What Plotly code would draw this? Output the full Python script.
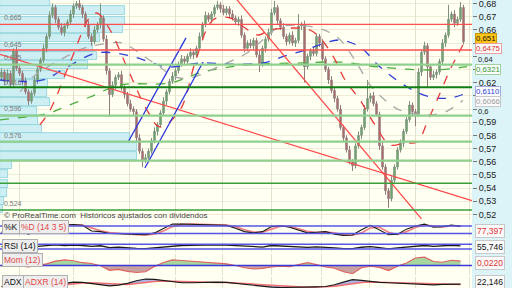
import plotly.graph_objects as go

# ---------------- price data (daily candles, index = trading day) ----------------
closes = [
    0.628, 0.621, 0.627, 0.619, 0.644, 0.631, 0.627, 0.621, 0.613, 0.606,
    0.612, 0.622, 0.630, 0.637, 0.646, 0.655, 0.671, 0.677, 0.668, 0.662,
    0.658, 0.663, 0.666, 0.672, 0.678, 0.680, 0.677, 0.672, 0.664, 0.655,
    0.651, 0.660, 0.664, 0.669, 0.653, 0.629, 0.611, 0.618, 0.624, 0.626,
    0.616, 0.611, 0.604, 0.600, 0.598, 0.578, 0.568, 0.561, 0.563, 0.568,
    0.576, 0.583, 0.588, 0.597, 0.606, 0.613, 0.621, 0.625, 0.629, 0.634,
    0.638, 0.636, 0.640, 0.643, 0.641, 0.646, 0.655, 0.664, 0.671, 0.668,
    0.672, 0.677, 0.679, 0.676, 0.673, 0.676, 0.672, 0.669, 0.666, 0.668,
    0.656, 0.646, 0.650, 0.648, 0.652, 0.641, 0.634, 0.646, 0.653, 0.658,
    0.673, 0.677, 0.667, 0.662, 0.655, 0.651, 0.656, 0.650, 0.652, 0.663,
    0.664, 0.632, 0.640, 0.644, 0.642, 0.655, 0.650, 0.638, 0.630, 0.622,
    0.614, 0.608, 0.600, 0.586, 0.578, 0.569, 0.560, 0.557, 0.572, 0.580,
    0.586, 0.600, 0.608, 0.610, 0.604, 0.596, 0.572, 0.556, 0.538, 0.532,
    0.546, 0.556, 0.569, 0.574, 0.583, 0.592, 0.603, 0.598, 0.596, 0.628,
    0.643, 0.648, 0.632, 0.624, 0.626, 0.628, 0.636, 0.650, 0.656, 0.668,
    0.672, 0.665, 0.668, 0.677, 0.651,
]
first_open = 0.624
# upper / lower shadows, in thousandths of a euro
hi_wick = [
    3, 2, 3, 2, 2, 3, 2, 2, 3, 2,
    2, 3, 2, 2, 3, 2, 3, 3, 2, 2,
    3, 2, 2, 3, 2, 2, 3, 2, 2, 3,
    2, 3, 2, 11, 2, 3, 2, 3, 2, 2,
    3, 2, 2, 3, 2, 2, 3, 2, 3, 2,
    2, 3, 2, 2, 3, 2, 2, 3, 2, 2,
    3, 2, 2, 3, 2, 2, 3, 2, 3, 2,
    2, 2, 3, 2, 3, 2, 2, 3, 2, 2,
    3, 2, 2, 3, 2, 2, 3, 2, 2, 3,
    3, 5, 2, 2, 3, 2, 2, 3, 2, 9,
    2, 3, 2, 2, 3, 2, 2, 3, 2, 2,
    3, 2, 2, 3, 2, 2, 3, 2, 2, 3,
    2, 3, 14, 2, 3, 2, 2, 3, 2, 2,
    3, 2, 2, 3, 2, 2, 3, 2, 2, 3,
    2, 3, 2, 2, 3, 2, 2, 3, 2, 11,
    2, 3, 2, 4, 2,
]
lo_wick = [
    2, 3, 2, 3, 3, 2, 2, 3, 2, 3,
    2, 2, 3, 2, 2, 3, 2, 2, 3, 2,
    2, 3, 2, 2, 3, 2, 2, 3, 2, 2,
    3, 2, 2, 3, 2, 3, 17, 2, 3, 2,
    2, 3, 2, 2, 3, 3, 2, 5, 2, 3,
    2, 2, 3, 2, 2, 3, 2, 2, 3, 2,
    2, 3, 2, 2, 3, 2, 2, 3, 2, 2,
    3, 2, 2, 3, 2, 2, 3, 2, 2, 3,
    2, 3, 2, 2, 3, 2, 6, 2, 3, 2,
    2, 2, 3, 2, 2, 3, 2, 2, 3, 2,
    3, 12, 2, 3, 2, 2, 3, 2, 2, 3,
    2, 3, 2, 2, 3, 2, 2, 4, 2, 2,
    3, 2, 2, 3, 2, 2, 3, 2, 3, 7,
    2, 3, 2, 2, 3, 2, 2, 3, 9, 2,
    3, 2, 15, 2, 2, 3, 2, 2, 3, 2,
    2, 3, 2, 2, 2,
]
days = list(range(len(closes)))
opens = [first_open] + closes[:-1]
highs = [max(o, c) + w / 1000 for o, c, w in zip(opens, closes, hi_wick)]
lows = [min(o, c) - w / 1000 for o, c, w in zip(opens, closes, lo_wick)]

# month separators (vertical grid)
grid_days = [6, 24, 42.5, 58, 73.5, 90, 106.5, 122.5, 138, 156]

# ---------------- moving averages (dashed) ----------------
ma_red_days = [12.8, 16.2, 22.8, 29.5, 31.8, 36.2, 41.8, 48.5, 52.8, 59.5, 64.8, 70.5, 76.2,
               81.2, 85.5, 89.5, 96.2, 102.8, 106.8, 111.2, 114.5, 119.5, 124.5, 129.5,
               134.5, 138.5, 142.2, 145.2, 149.5, 153.8]
ma_red_vals = [0.5879, 0.5992, 0.6349, 0.6698, 0.6728, 0.6599, 0.6318, 0.5992, 0.5864, 0.5992,
               0.6372, 0.6675, 0.6690, 0.6614, 0.6561, 0.6599, 0.6614, 0.6599, 0.6523, 0.6372,
               0.6220, 0.6068, 0.5879, 0.5728, 0.5743, 0.5750, 0.5917, 0.6068, 0.6296, 0.6485]
ma_gray_days = [6.2, 10.5, 19.5, 27.8, 36.2, 40.5, 47.8, 52.8, 57.8, 62.8, 72.8, 81.8, 87.8,
                92.8, 103.8, 111.8, 117.8, 122.8, 127.8, 132.8, 141.8, 147.8, 153.8]
ma_gray_vals = [0.6129, 0.6243, 0.6372, 0.6463, 0.6500, 0.6500, 0.6394, 0.6318, 0.6243, 0.6235,
                0.6326, 0.6425, 0.6538, 0.6622, 0.6622, 0.6546, 0.6372, 0.6182, 0.6068, 0.5992,
                0.5955, 0.5977, 0.6066]
ma_blue_days = [-0.5, 13.8, 21.8, 31.8, 41.8, 49.5, 55.2, 66.2, 76.2, 87.2, 94.5, 101.2, 106.8,
                112.8, 119.5, 126.2, 135.2, 142.8, 149.5, 153.8]
ma_blue_vals = [0.6220, 0.6220, 0.6318, 0.6425, 0.6409, 0.6356, 0.6318, 0.6349, 0.6341, 0.6349,
                0.6402, 0.6447, 0.6493, 0.6523, 0.6470, 0.6318, 0.6167, 0.6091, 0.6083, 0.6110]
ma_green_days = [-0.5, 16.2, 18.5, 29.5, 39.5, 56.2, 67.2, 81.8, 100.5, 112.8, 126.2, 143.8, 155.2]
ma_green_vals = [0.5917, 0.5970, 0.5992, 0.6091, 0.6182, 0.6197, 0.6281, 0.6334, 0.6349, 0.6356,
                 0.6318, 0.6296, 0.6321]

# ---------------- trend lines ----------------
red_trend_days = [-0.5, 156.8]
red_trend_vals = [0.6415, 0.5305]
red_steep_days = [78.5, 140.0]
red_steep_vals = [0.6827, 0.5167]
blue_ch1_days = [42.2, 61.5]
blue_ch1_vals = [0.5750, 0.6539]
blue_ch2_days = [47.8, 67.2]
blue_ch2_vals = [0.5553, 0.6356]

# ---------------- horizontal levels ----------------
red_levels = [0.6642, 0.6447]
light_green_levels = [0.6336, 0.5949, 0.5752, 0.5608]
dark_green_levels = [0.6165]
mid_green_levels = [0.5437, 0.5234]

# ---------------- volume-by-price profile ----------------
vp_price = [0.6808, 0.6747, 0.6668, 0.6607, 0.6542, 0.6466, 0.6402, 0.6334, 0.6258, 0.6190,
            0.6125, 0.6053, 0.5985, 0.5912, 0.5849, 0.5784, 0.5712, 0.5644, 0.5573, 0.5504,
            0.5433, 0.5367, 0.5300, 0.5245]
vp_volume = [10.6, 26.5, 26.5, 26.0, 21.2, 19.7, 20.5, 18.6, 13.8, 10.2,
             10.0, 10.6, 7.8, 8.0, 8.9, 27.5, 29.0, 29.0, 2.5, 1.7,
             1.7, 1.5, 0.8, 0.6]
vp_labels = [0.665, 0.645, 0.635, 0.616, 0.596, 0.576, 0.524]

# ---------------- indicators (sampled every 3 days) ----------------
ind_days = list(range(0, 155, 3))
stoch_k = [30, 50, 45, 15, 45, 75, 92, 88, 92, 85,
           40, 35, 20, 18, 12, 8, 10, 25, 60, 95,
           96, 94, 92, 94, 90, 85, 62, 35, 25, 35,
           75, 82, 70, 50, 25, 30, 35, 15, 5, 8,
           50, 85, 50, 10, 15, 55, 80, 95, 70, 75,
           88, 77]
stoch_d = [25, 40, 47, 30, 30, 60, 82, 90, 90, 88,
           65, 42, 28, 20, 16, 11, 9, 15, 40, 75,
           93, 95, 93, 93, 92, 88, 75, 50, 32, 30,
           55, 78, 78, 60, 38, 28, 32, 25, 10, 6,
           25, 65, 70, 30, 12, 35, 68, 88, 82, 73,
           82, 82]
rsi = [50, 55, 52, 45, 52, 60, 66, 60, 64, 60,
       52, 58, 42, 46, 44, 36, 33, 40, 52, 58,
       60, 61, 63, 66, 66, 63, 60, 52, 50, 47,
       60, 56, 52, 54, 44, 48, 46, 40, 33, 34,
       45, 50, 42, 32, 40, 48, 50, 60, 52, 56,
       62, 56]
mom = [-0.004, 0.002, -0.003, -0.008, 0.0, 0.008, 0.022, 0.028, 0.024, 0.014,
       0.010, -0.002, -0.025, -0.020, -0.030, -0.036, -0.032, -0.005, 0.015, 0.028,
       0.025, 0.022, 0.020, 0.016, 0.012, 0.008, 0.0, -0.012, -0.018, -0.015,
       -0.008, -0.004, -0.006, 0.004, 0.014, 0.004, -0.008, -0.014, -0.032, -0.042,
       -0.012, -0.004, -0.010, -0.026, -0.004, 0.012, 0.038, 0.042, 0.020, 0.016,
       0.026, 0.022]
adx = [15, 14, 13, 13, 14, 16, 20, 24, 28, 27,
       24, 20, 17, 19, 24, 32, 37, 36, 32, 28,
       26, 26, 27, 28, 28, 27, 24, 21, 18, 15,
       13, 12, 12, 13, 14, 14, 15, 20, 28, 35,
       33, 29, 27, 26, 25, 23, 21, 20, 20, 21,
       22, 22]
adxr = [15, 15, 14, 14, 14, 15, 17, 20, 23, 25,
        26, 25, 23, 21, 21, 24, 28, 30, 31, 30,
        29, 28, 27, 27, 27, 27, 26, 24, 22, 20,
        18, 16, 15, 14, 13, 13, 14, 16, 20, 24,
        27, 28, 28, 27, 26, 25, 24, 23, 22, 21,
        21, 21]

price_ticks = [0.68, 0.67, 0.66, 0.65, 0.64, 0.63, 0.62, 0.61, 0.60, 0.59, 0.58, 0.57,
               0.56, 0.55, 0.54, 0.53, 0.52]
hidden_ticks = [0.65, 0.63, 0.61]          # covered by the value boxes
crowded_ticks = [0.64, 0.60]               # written between the boxes
crowded_px = [59.0, 111.8]

# ---------------- layout constants ----------------
W, H = 512, 288
PLOT_W = 472 / W
X_RANGE = [-0.5, 156.83]
Y_MAIN = [0.51583, 0.68265]
FONT = "Liberation Sans"
CREAM = "#fffff2"


def py(px):
    return 1 - px / H


fig = go.Figure()

# volume profile (base subplot, drawn under the candles)
fig.add_trace(go.Bar(
    x=vp_volume, y=vp_price, orientation="h", width=0.0061,
    marker=dict(color="#cdeff4", line=dict(color="#88cfdb", width=0.8)),
    xaxis="x", yaxis="y", hoverinfo="skip"))

# candles
fig.add_trace(go.Candlestick(
    x=days, open=opens, high=highs, low=lows, close=closes,
    xaxis="x2", yaxis="y", whiskerwidth=0,
    increasing=dict(fillcolor="#5cb85c", line=dict(color="#7f917f", width=1)),
    decreasing=dict(fillcolor="#c65a55", line=dict(color="#917f7f", width=1)),
    hoverinfo="skip"))

# dashed averages
for dd, vv, col in [(ma_green_days, ma_green_vals, "#4cae3c"),
                    (ma_gray_days, ma_gray_vals, "#a9a9a9"),
                    (ma_blue_days, ma_blue_vals, "#2f3fd6"),
                    (ma_red_days, ma_red_vals, "#e83a3a")]:
    fig.add_trace(go.Scatter(x=dd, y=vv, mode="lines", xaxis="x2", yaxis="y",
                             line=dict(color=col, width=1.3, dash="dash", shape="spline"),
                             hoverinfo="skip"))

# trend lines
for dd, vv, col in [(red_trend_days, red_trend_vals, "#ff4a4a"),
                    (red_steep_days, red_steep_vals, "#ff4a4a"),
                    (blue_ch1_days, blue_ch1_vals, "#2a36e0"),
                    (blue_ch2_days, blue_ch2_vals, "#2a36e0")]:
    fig.add_trace(go.Scatter(x=dd, y=vv, mode="lines", xaxis="x2", yaxis="y",
                             line=dict(color=col, width=1.3), hoverinfo="skip"))

# stochastic
fig.add_trace(go.Scatter(x=ind_days, y=stoch_d, mode="lines", xaxis="x3", yaxis="y2",
                         line=dict(color="#f08080", width=1.6), hoverinfo="skip"))
fig.add_trace(go.Scatter(x=ind_days, y=stoch_k, mode="lines", xaxis="x3", yaxis="y2",
                         line=dict(color="#1a1a1a", width=1.1), hoverinfo="skip"))
# RSI
fig.add_trace(go.Scatter(x=ind_days, y=rsi, mode="lines", xaxis="x4", yaxis="y3",
                         line=dict(color="#1a1a1a", width=1.3), hoverinfo="skip"))
# momentum
mom_pos = [max(v, 0) for v in mom]
mom_neg = [min(v, 0) for v in mom]
fig.add_trace(go.Scatter(x=ind_days, y=mom_pos, mode="lines", xaxis="x5", yaxis="y4",
                         fill="tozeroy", fillcolor="#a7d79f", line=dict(width=0),
                         hoverinfo="skip"))
fig.add_trace(go.Scatter(x=ind_days, y=mom_neg, mode="lines", xaxis="x5", yaxis="y4",
                         fill="tozeroy", fillcolor="#c9a2a0", line=dict(width=0),
                         hoverinfo="skip"))
fig.add_trace(go.Scatter(x=ind_days, y=mom, mode="lines", xaxis="x5", yaxis="y4",
                         line=dict(color="#e06060", width=1.1), hoverinfo="skip"))
# ADX
fig.add_trace(go.Scatter(x=ind_days, y=adxr, mode="lines", xaxis="x6", yaxis="y5",
                         line=dict(color="#f07070", width=1.5), hoverinfo="skip"))
fig.add_trace(go.Scatter(x=ind_days, y=adx, mode="lines", xaxis="x6", yaxis="y5",
                         fill="tonexty", fillcolor="#b3b3e6",
                         line=dict(color="#1a1a1a", width=1.2), hoverinfo="skip"))

shapes = [dict(type="rect", xref="paper", yref="paper", x0=PLOT_W, x1=1, y0=0, y1=1,
               fillcolor="#dcf4f8", line=dict(width=0), layer="below")]


def hline(yref, xref, val, col, w):
    return dict(type="line", xref=xref, x0=0, x1=1, yref=yref, y0=val, y1=val,
                line=dict(color=col, width=w))


for lv in light_green_levels:
    shapes.append(hline("y", "x domain", lv, "#8fd08f", 2.2))
for lv in mid_green_levels:
    shapes.append(hline("y", "x domain", lv, "#3a9e3a", 1.4))
for lv in dark_green_levels:
    shapes.append(hline("y", "x domain", lv, "#127f12", 1.8))
for lv in red_levels:
    shapes.append(hline("y", "x domain", lv, "#ff4f4f", 1.4))
for lv in [80, 20]:
    shapes.append(hline("y2", "x3 domain", lv, "#5656e6", 1.5))
for lv in [70, 30]:
    shapes.append(hline("y3", "x4 domain", lv, "#5656e6", 1.5))
shapes.append(hline("y4", "x5 domain", 0, "#3a3ad8", 1.4))

ann = []
# copyright line
ann.append(dict(text="© ProRealTime.com  Históricos ajustados con dividendos",
                xref="paper", yref="paper", x=0.004, y=py(215), xanchor="left",
                yanchor="middle", showarrow=False,
                font=dict(family=FONT, size=8, color="#444")))
# volume profile labels
for lv in vp_labels:
    ann.append(dict(text=f"{lv:.3f}".replace(".", ","), xref="paper", yref="y",
                    x=0.004, y=lv, xanchor="left", yanchor="bottom", showarrow=False,
                    font=dict(family=FONT, size=7, color="#7a7a7a")))


def fmt_tick(v):
    return f"{v:.2f}".rstrip("0").replace(".", ",")


# the two crowded axis labels, set between their boxed neighbours
for v, p in zip(crowded_ticks, crowded_px):
    ann.append(dict(text=fmt_tick(v), xref="paper", yref="paper", x=0.930, y=py(p),
                    xanchor="left", yanchor="middle", showarrow=False,
                    font=dict(family=FONT, size=7.5, color="#222")))


def box(text, x, y, col, bg, border, size=8.5, pad=1):
    return dict(text=text, xref="paper", yref="paper", x=x, y=y, xanchor="left",
                yanchor="middle", showarrow=False, bgcolor=bg, bordercolor=border,
                borderwidth=1, borderpad=pad, font=dict(family=FONT, size=size, color=col))


# panel titles
ann.append(box("%K", 0.004, py(227), "#111", "#eeeeee", "#b0b0b0"))
ann.append(box("%D (14 3 5)", 0.037, py(227), "#e04848", "#eeeeee", "#b0b0b0"))
ann.append(box("RSI (14)", 0.004, py(246), "#111", "#eeeeee", "#b0b0b0"))
ann.append(box("Mom (12)", 0.004, py(260), "#e04848", "#eeeeee", "#b0b0b0"))
ann.append(box("ADX", 0.004, py(282), "#111", "#eeeeee", "#b0b0b0"))
ann.append(box("ADXR (14)", 0.045, py(282), "#e04848", "#eeeeee", "#b0b0b0"))

# right-hand value boxes
XR = 0.927
ann.append(box("0,651", XR, py(38.5), "#111", "#ffc414", "#c89a00", size=7.8, pad=0))
ann.append(box("0,6475", XR, py(49.0), "#e03030", "#fbfbfb", "#e8a0a0", size=7.8, pad=0))
ann.append(box("0,6321", XR, py(69.5), "#2f9a2f", "#fbfbfb", "#a0d0a0", size=7.8, pad=0))
ann.append(box("0,6110", XR, py(91.5), "#2f3fd6", "#fbfbfb", "#a0a8e0", size=7.8, pad=0))
ann.append(box("0,6066", XR, py(101.5), "#9a9a9a", "#fbfbfb", "#c8c8c8", size=7.8, pad=0))
ann.append(box("77,397", XR, py(231), "#e03030", "#fbfbfb", "#c8c8c8", size=8.5))
ann.append(box("55,746", XR, py(246.5), "#111", "#fbfbfb", "#c8c8c8", size=8.5))
ann.append(box("0,0220", XR, py(263), "#e03030", "#fbfbfb", "#c8c8c8", size=8.5))
ann.append(box("22,146", XR, py(281.5), "#111", "#fbfbfb", "#c8c8c8", size=8.5))

tick_text = ["" if (v in hidden_ticks or v in crowded_ticks) else fmt_tick(v)
             for v in price_ticks]

grid_x = dict(range=X_RANGE, showgrid=True, gridcolor="#e4e2cc", gridwidth=1,
              tickvals=grid_days, showticklabels=False, ticks="", zeroline=False,
              showline=False, fixedrange=True)

layout = dict(
    width=W, height=H, margin=dict(l=0, r=0, t=0, b=0),
    paper_bgcolor=CREAM, plot_bgcolor=CREAM, showlegend=False, hovermode=False,
    bargap=0,
    xaxis=dict(domain=[0, PLOT_W], range=[0, 100], visible=False, anchor="y",
               fixedrange=True),
    xaxis2=dict(overlaying="x", anchor="y", rangeslider=dict(visible=False), **grid_x),
    xaxis3=dict(domain=[0, PLOT_W], anchor="y2", **grid_x),
    xaxis4=dict(domain=[0, PLOT_W], anchor="y3", **grid_x),
    xaxis5=dict(domain=[0, PLOT_W], anchor="y4", **grid_x),
    xaxis6=dict(domain=[0, PLOT_W], anchor="y5", **grid_x),
    yaxis=dict(domain=[py(220), 1], range=Y_MAIN, side="right", anchor="x",
               tickvals=price_ticks, ticktext=tick_text, ticks="outside", ticklen=4,
               tickcolor="#777", tickfont=dict(family=FONT, size=9, color="#222"),
               ticklabeloverflow="allow",
               showgrid=True, gridcolor="#efedd8", zeroline=False, automargin=False,
               fixedrange=True),
    yaxis2=dict(domain=[py(236.5), py(222.5)], range=[-4, 108], anchor="x3",
                showticklabels=False, showgrid=False, zeroline=False, ticks=""),
    yaxis3=dict(domain=[py(251.5), py(241.5)], range=[9, 94], anchor="x4",
                showticklabels=False, showgrid=False, zeroline=False, ticks=""),
    yaxis4=dict(domain=[py(274.5), py(254)], range=[-0.046, 0.058], anchor="x5",
                showticklabels=False, showgrid=False, zeroline=False, ticks=""),
    yaxis5=dict(domain=[0, py(277)], range=[10.5, 43], anchor="x6",
                showticklabels=False, showgrid=False, zeroline=False, ticks=""),
    shapes=shapes, annotations=ann,
)
fig.update_layout(**layout)
fig.write_html("out.html")
